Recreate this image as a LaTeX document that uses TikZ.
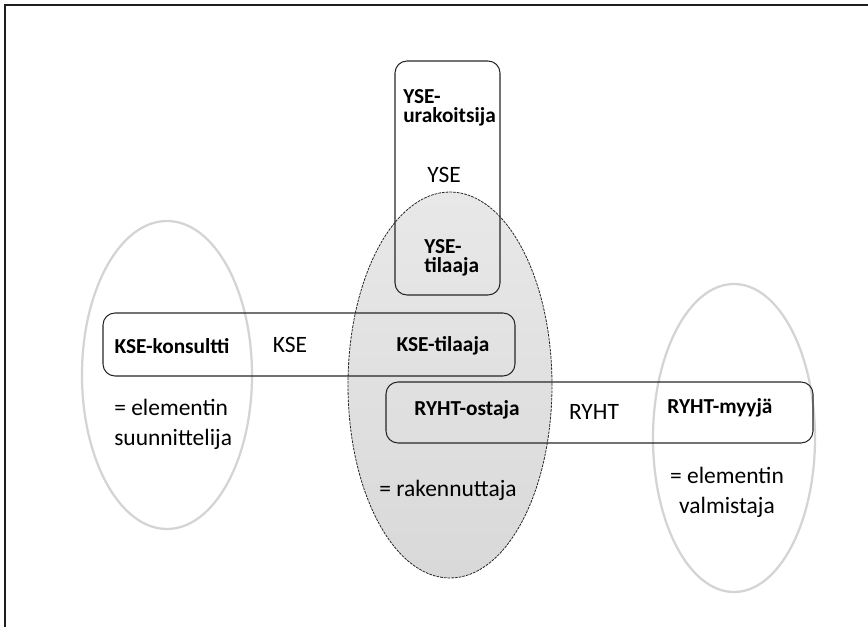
\documentclass[tikz,border=0pt]{standalone}
\usepackage{fontspec}
\setmainfont{Carlito}
\usetikzlibrary{shapes.geometric}
\tikzset{
 rolebox/.style={draw=black!85, line width=0.8pt, rounded corners=9pt, inner sep=0pt},
 sideoval/.style={ellipse, draw=black!17, line width=1.7pt, inner sep=0pt},
 mainoval/.style={ellipse, draw=black!85, dash pattern=on 2pt off 0.8pt, line width=0.6pt, inner sep=0pt, top color=black!9, bottom color=black!15},
 rolelabel/.style={font=\fontsize{16}{14.5}\selectfont\bfseries, inner sep=0pt},
 plainlabel/.style={font=\fontsize{17.6}{22.5}\selectfont, inner sep=0pt},
 framebar/.style={draw=black!88, line width=2pt},
}
\begin{document}
\begin{tikzpicture}[x=0.75pt,y=-0.75pt]
\useasboundingbox (0,0) rectangle (868,627);
% frame
\coordinate (fb) at (5,628);
\coordinate (fc) at (5,5);
\coordinate (fr) at (869,5);
\draw[framebar] (fb) -- (fc) -- (fr);
% ovals
\node[mainoval, minimum width=153pt, minimum height=289.5pt] (rak) at (450,385) {};
\node[sideoval, minimum width=127.5pt, minimum height=231pt] (sun) at (167,375) {};
\node[sideoval, minimum width=121.5pt, minimum height=231pt] (val) at (734,438) {};
% boxes
\node[rolebox, minimum width=78.75pt, minimum height=175.5pt] (yse) at (447.5,178) {};
\node[rolebox, minimum width=309pt, minimum height=47.25pt] (kse) at (309,344.5) {};
\node[rolebox, minimum width=320.25pt, minimum height=45.75pt] (ryht) at (599.5,412.5) {};
% labels
\node[rolelabel, align=left, anchor=west] (yseu) at (403,108) {YSE-\\urakoitsija};
\node[plainlabel] (ysel) at (444,175) {YSE};
\node[rolelabel, align=left, anchor=west] (yset) at (424,258) {YSE-\\tilaaja};
\node[rolelabel] (ksek) at (172,346) {KSE-konsultti};
\node[plainlabel] (ksel) at (290,345) {KSE};
\node[rolelabel] (kset) at (443,346) {KSE-tilaaja};
\node[rolelabel] (ryho) at (467,410) {RYHT-ostaja};
\node[plainlabel] (ryhl) at (594,412) {RYHT};
\node[rolelabel] (ryhm) at (720,408) {RYHT-myyjä};
\node[plainlabel, align=left, anchor=west] (suul) at (114,424) {= elementin\\suunnittelija};
\node[plainlabel, align=center] (vall) at (727,492) {= elementin\\valmistaja};
\node[plainlabel] (rakl) at (448,490) {= rakennuttaja};
\end{tikzpicture}
\end{document}
